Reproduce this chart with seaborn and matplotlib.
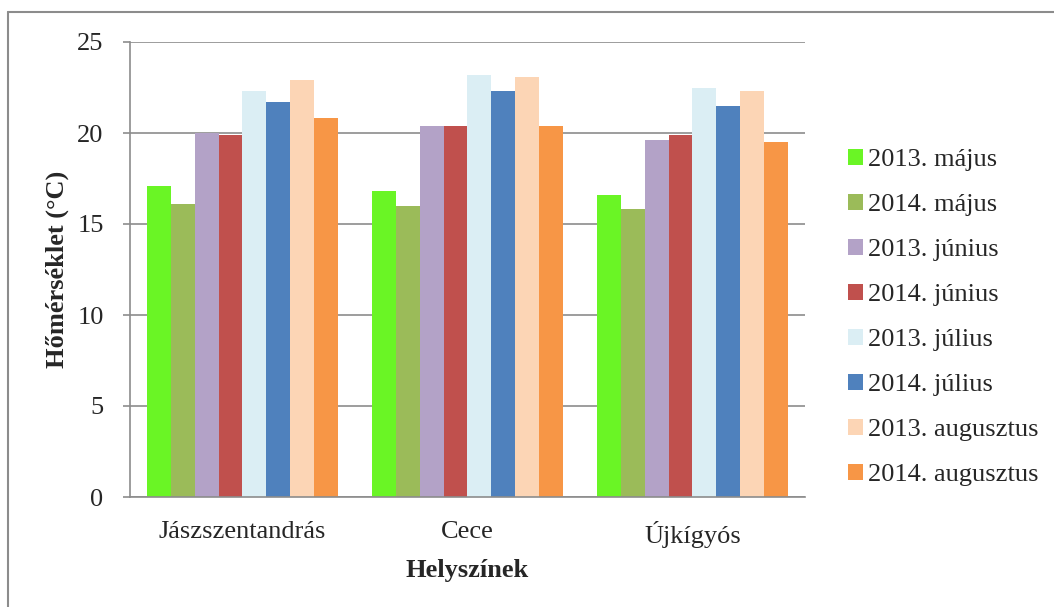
import matplotlib
matplotlib.use("Agg")
import matplotlib.pyplot as plt
import seaborn as sns
import pandas as pd
from matplotlib.lines import Line2D
from matplotlib.ticker import FixedLocator

sites = ["Jászszentandrás", "Cece", "Újkígyós"]
series = ["2013. május", "2014. május", "2013. június", "2014. június",
          "2013. július", "2014. július", "2013. augusztus", "2014. augusztus"]
values = {
    "2013. május":     [17.1, 16.8, 16.6],
    "2014. május":     [16.1, 16.0, 15.8],
    "2013. június":    [20.0, 20.4, 19.6],
    "2014. június":    [19.9, 20.4, 19.9],
    "2013. július":    [22.3, 23.2, 22.5],
    "2014. július":    [21.7, 22.3, 21.5],
    "2013. augusztus": [22.9, 23.1, 22.3],
    "2014. augusztus": [20.8, 20.4, 19.5],
}
colors = ["#6AF525", "#9BBB59", "#B3A2C7", "#C0504D",
          "#DBEEF4", "#4F81BD", "#FCD5B5", "#F79646"]

rows = []
for s in series:
    for site, v in zip(sites, values[s]):
        rows.append({"Helyszín": site, "Sorozat": s, "Érték": v})
df = pd.DataFrame(rows)

sns.set_style("white")
plt.rcParams["font.family"] = ["Liberation Serif", "DejaVu Serif"]
FS = 19

fig = plt.figure(figsize=(10.54, 6.07), dpi=100)
ax = fig.add_axes([130/1054, 110/607, 675/1054, 455/607])

sns.barplot(data=df, x="Helyszín", y="Érték", hue="Sorozat", hue_order=series,
            order=sites, palette=colors, width=0.845, gap=0, saturation=1,
            edgecolor="none", linewidth=0, ax=ax, errorbar=None)

ax.set_ylim(0, 25)
ax.set_xlim(-0.5, 2.5)
ax.set_yticks([0, 5, 10, 15, 20, 25])
ax.yaxis.grid(True, color="#8C8C8C", linewidth=1.2)
ax.set_axisbelow(True)
for side in ["top", "right"]:
    ax.spines[side].set_visible(False)
for side in ["left", "bottom"]:
    ax.spines[side].set_color("#8C8C8C")
    ax.spines[side].set_linewidth(1.2)

ax.tick_params(axis="y", which="major", direction="out", length=5, color="#8C8C8C",
               width=1.2, labelsize=FS, pad=14, left=True)
ax.tick_params(axis="x", which="major", length=0, labelsize=FS, pad=17)
ax.xaxis.set_minor_locator(FixedLocator([-0.5, 0.5, 1.5, 2.5]))
ax.tick_params(axis="x", which="minor", direction="out", length=6, color="#8C8C8C", width=1.2)

ax.set_xlabel("Helyszínek", fontsize=FS, fontweight="bold", labelpad=8)
ax.set_ylabel("Hőmérséklet (°C)", fontsize=FS, fontweight="bold", labelpad=6)

ax.legend(loc="upper left", bbox_to_anchor=(848/1054, 1 - 149/607),
          bbox_transform=fig.transFigure, frameon=False, fontsize=FS,
          handlelength=0.55, handleheight=0.55, handletextpad=0.2,
          labelspacing=0.86, borderaxespad=0, borderpad=0)

# outer chart border (only left and top visible; the rest is cropped away)
fig.add_artist(Line2D([8/1054, 8/1054], [0, 1 - 12/607], transform=fig.transFigure,
                      color="#8C8C8C", linewidth=1.5))
fig.add_artist(Line2D([8/1054, 1], [1 - 12/607, 1 - 12/607], transform=fig.transFigure,
                      color="#8C8C8C", linewidth=1.5))

fig.savefig("out.png", dpi=100)
